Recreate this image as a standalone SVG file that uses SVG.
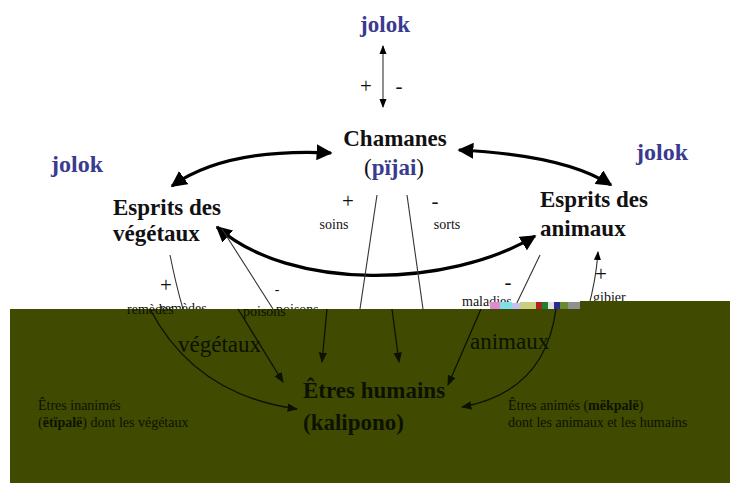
<svg xmlns="http://www.w3.org/2000/svg" width="736" height="485" viewBox="0 0 736 485">
  <style>
    .t { font-family: "Liberation Serif", "Times New Roman", serif; fill: #111; }
    .big { font-size: 23px; font-weight: bold; }
    .blue { fill: #3a3a8e; font-weight: bold; font-size: 23px; }
    .sm { font-size: 14px; }
    .sign { font-size: 21px; }
    .note { font-size: 14px; fill: #0c1200; }
    .lbl { font-size: 23px; fill: #0c1200; }
    .thick { fill: none; stroke: #000; stroke-width: 3.2; }
    .thin { fill: none; stroke: #333; stroke-width: 1.1; }
    .dk { fill: none; stroke: #0c1200; stroke-width: 1.3; }
  </style>
  <defs>
    <marker id="big" viewBox="0 0 10 10" refX="9" refY="5" markerWidth="5" markerHeight="5" orient="auto-start-reverse" markerUnits="strokeWidth">
      <path d="M0,0 L10,5 L0,10 z" fill="#000"/>
    </marker>
    <marker id="small" viewBox="0 0 10 10" refX="9" refY="5" markerWidth="8" markerHeight="8" orient="auto-start-reverse" markerUnits="strokeWidth">
      <path d="M0,1 L10,5 L0,9 z" fill="#000"/>
    </marker>
    <marker id="smalldk" viewBox="0 0 10 10" refX="9" refY="5" markerWidth="8" markerHeight="8" orient="auto-start-reverse" markerUnits="strokeWidth">
      <path d="M0,1 L10,5 L0,9 z" fill="#0c1200"/>
    </marker>
  </defs>

  <rect width="736" height="485" fill="#fff"/>

  <!-- upper connectors -->
  <g id="connectors">
    <path class="thin" d="M383,46 L383,107" marker-start="url(#small)" marker-end="url(#small)"/>
    <path class="thick" d="M331,153 Q225,148 172,186" marker-start="url(#big)" marker-end="url(#big)"/>
    <path class="thick" d="M459,150 Q565,155 611,185" marker-start="url(#big)" marker-end="url(#big)"/>
    <path class="thick" d="M217,227 C290,292 450,288 535,236" marker-start="url(#big)" marker-end="url(#big)"/>
    <path class="thin" d="M377,195 L360,309"/>
    <path class="thin" d="M407,195 L423,309"/>
    <path class="thin" d="M170,255 Q176,285 183,309"/>
    <path class="thin" d="M222,229 L273,309"/>
    <path class="thin" d="M540,255 L514,309"/>
    <path class="thin" d="M588,309 Q596,280 598,252" marker-end="url(#small)"/>
  </g>

  <g id="jolok-top">
    <text class="t blue" x="385" y="32" text-anchor="middle">jolok</text>
    <text class="t sign" x="366" y="93" text-anchor="middle">+</text>
    <text class="t sign" x="399" y="93" text-anchor="middle">-</text>
  </g>
  <g id="chamanes">
    <text class="t big" x="395" y="146" text-anchor="middle">Chamanes</text>
    <text class="t big" x="394" y="175" text-anchor="middle" style="font-weight:normal">(<tspan style="fill:#3a3a8e;font-weight:bold">pïjai</tspan>)</text>
  </g>
  <g id="jolok-left"><text class="t blue" x="77" y="172" text-anchor="middle" style="font-size:24px">jolok</text></g>
  <g id="jolok-right"><text class="t blue" x="662" y="160" text-anchor="middle" style="font-size:24px">jolok</text></g>
  <g id="esprits-vegetaux">
    <text class="t big" x="113" y="215">Esprits des</text>
    <text class="t big" x="113" y="241">végétaux</text>
  </g>
  <g id="esprits-animaux">
    <text class="t big" x="540" y="207">Esprits des</text>
    <text class="t big" x="540" y="236">animaux</text>
  </g>
  <g id="labels-upper">
    <text class="t sign" x="348" y="208" text-anchor="middle">+</text>
    <text class="t sm" x="334" y="229" text-anchor="middle">soins</text>
    <text class="t sign" x="435" y="208" text-anchor="middle">-</text>
    <text class="t sm" x="447" y="229" text-anchor="middle">sorts</text>
    <text class="t sign" x="166" y="292" text-anchor="middle">+</text>
    <text class="t sm" x="160" y="313">remèdes</text>
    <text class="t sm" x="277" y="294" text-anchor="middle">-</text>
    <text class="t sm" x="276" y="314">poisons</text>
    <text class="t sign" x="508" y="289" text-anchor="middle">-</text>
    <text class="t sm" x="462" y="306">maladies</text>
    <text class="t sign" x="601" y="281" text-anchor="middle">+</text>
    <text class="t sm" x="593" y="302">gibier</text>
  </g>

  <!-- olive panel covering the lower part -->
  <g id="panel">
    <rect x="10" y="309" width="720" height="174" fill="#404a00"/>
    <rect x="580" y="301" width="150" height="8" fill="#404a00"/>
    <rect x="490" y="302" width="10" height="7" fill="#e08ad0"/>
    <rect x="500" y="302" width="12" height="7" fill="#7fe0e8"/>
    <rect x="512" y="303" width="8" height="6" fill="#c6c0f0"/>
    <rect x="520" y="302" width="16" height="7" fill="#c8cf80"/>
    <rect x="536" y="302" width="6" height="7" fill="#b02020"/>
    <rect x="542" y="302" width="6" height="7" fill="#208030"/>
    <rect x="548" y="302" width="6" height="7" fill="#e0e0e0"/>
    <rect x="554" y="302" width="6" height="7" fill="#2a2a90"/>
    <rect x="560" y="302" width="8" height="7" fill="#6a8a30"/>
    <rect x="568" y="302" width="12" height="7" fill="#909090"/>
  </g>

  <!-- connectors on the panel -->
  <g id="connectors-lower">
    <path class="dk" d="M327,309 L322,362" marker-end="url(#smalldk)"/>
    <path class="dk" d="M392,309 L399,362" marker-end="url(#smalldk)"/>
    <path class="dk" d="M238,309 L283,382" marker-end="url(#smalldk)"/>
    <path class="dk" d="M150,309 Q195,395 297,409" marker-end="url(#smalldk)"/>
    <path class="dk" d="M481,309 L448,385" marker-end="url(#smalldk)"/>
    <path class="dk" d="M556,309 Q545,392 462,407" marker-end="url(#smalldk)"/>
  </g>
  <g id="labels-lower">
    <text class="t sm" x="127" y="314" style="fill:#0c1200">remèdes</text>
    <text class="t sm" x="243" y="316" style="fill:#0c1200">poisons</text>
    <text class="t lbl" x="178" y="352">végétaux</text>
    <text class="t lbl" x="470" y="349">animaux</text>
  </g>
  <g id="etres-humains">
    <text class="t big" x="303" y="398" style="fill:#0c1200">Êtres humains</text>
    <text class="t big" x="303" y="430" style="fill:#0c1200">(kalipono)</text>
  </g>
  <g id="inanimes">
    <text class="t note" x="38" y="410">Êtres inanimés</text>
    <text class="t note" x="38" y="427">(<tspan font-weight="bold">ëtïpalë</tspan>) dont les végétaux</text>
  </g>
  <g id="animes">
    <text class="t note" x="508" y="410">Êtres animés (<tspan font-weight="bold">mëkpalë</tspan>)</text>
    <text class="t note" x="508" y="427">dont les animaux et les humains</text>
  </g>
</svg>
